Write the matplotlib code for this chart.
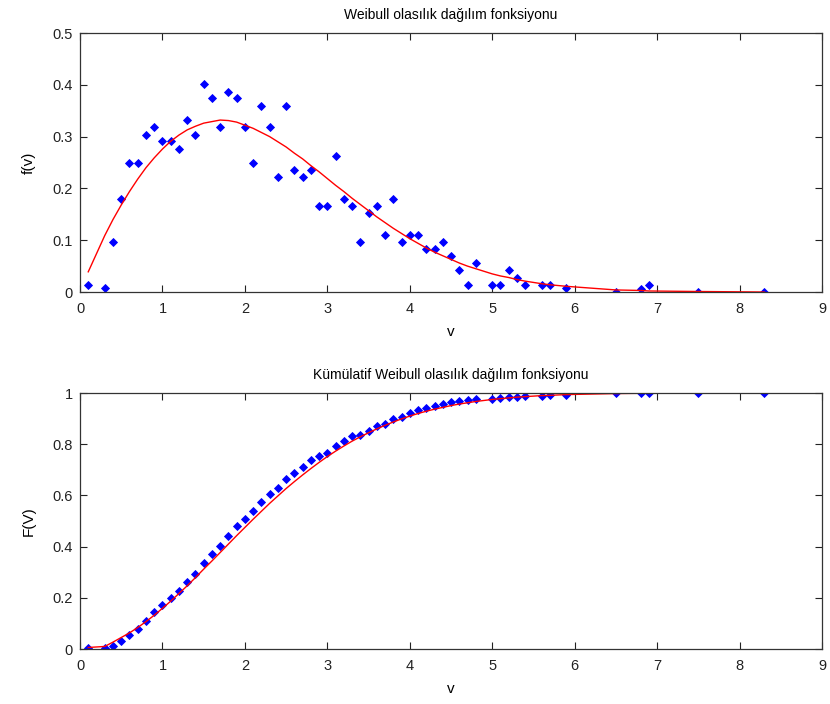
import matplotlib
matplotlib.use("Agg")
import matplotlib.pyplot as plt

plt.rcParams['font.family'] = ['Liberation Sans', 'DejaVu Sans']

# wind speed bins (m/s)
v = [0.1, 0.3, 0.4, 0.5, 0.6, 0.7, 0.8, 0.9, 1.0, 1.1, 1.2, 1.3, 1.4, 1.5, 1.6,
     1.7, 1.8, 1.9, 2.0, 2.1, 2.2, 2.3, 2.4, 2.5, 2.6, 2.7, 2.8, 2.9, 3.0, 3.1,
     3.2, 3.3, 3.4, 3.5, 3.6, 3.7, 3.8, 3.9, 4.0, 4.1, 4.2, 4.3, 4.4, 4.5, 4.6,
     4.7, 4.8, 5.0, 5.1, 5.2, 5.3, 5.4, 5.6, 5.7, 5.9, 6.5, 6.8, 6.9, 7.5, 8.3]

# measured probability density (blue diamonds)
f_meas = [0.013, 0.007, 0.097, 0.179, 0.250, 0.250, 0.303, 0.318, 0.291, 0.291,
          0.277, 0.333, 0.303, 0.402, 0.374, 0.318, 0.386, 0.374, 0.318, 0.250,
          0.360, 0.318, 0.222, 0.360, 0.236, 0.222, 0.236, 0.167, 0.167, 0.262,
          0.179, 0.167, 0.097, 0.153, 0.167, 0.111, 0.179, 0.097, 0.111, 0.111,
          0.083, 0.083, 0.097, 0.069, 0.042, 0.014, 0.056, 0.014, 0.014, 0.042,
          0.028, 0.014, 0.014, 0.014, 0.007, 0.001, 0.005, 0.014, 0.001, 0.001]

# Weibull fitted density (red line)
f_fit = [0.039, 0.109, 0.140, 0.168, 0.194, 0.218, 0.240, 0.259, 0.276, 0.291,
         0.303, 0.313, 0.320, 0.326, 0.329, 0.332, 0.331, 0.328, 0.322, 0.316,
         0.308, 0.300, 0.290, 0.280, 0.268, 0.257, 0.244, 0.232, 0.219, 0.206,
         0.194, 0.181, 0.169, 0.157, 0.145, 0.134, 0.123, 0.113, 0.103, 0.094,
         0.085, 0.077, 0.070, 0.063, 0.056, 0.050, 0.045, 0.035, 0.031, 0.028,
         0.024, 0.021, 0.016, 0.014, 0.011, 0.004, 0.003, 0.002, 0.001, 0.000]

# measured cumulative distribution (blue diamonds)
F_meas = [0.004, 0.003, 0.013, 0.031, 0.055, 0.080, 0.109, 0.143, 0.171, 0.200,
          0.228, 0.262, 0.294, 0.335, 0.372, 0.402, 0.442, 0.480, 0.507, 0.538,
          0.574, 0.606, 0.628, 0.664, 0.688, 0.711, 0.737, 0.753, 0.767, 0.795,
          0.813, 0.831, 0.836, 0.853, 0.871, 0.880, 0.897, 0.908, 0.921, 0.932,
          0.940, 0.950, 0.957, 0.965, 0.969, 0.971, 0.976, 0.978, 0.980, 0.984,
          0.986, 0.988, 0.989, 0.991, 0.993, 0.999, 0.999, 1.000, 1.000, 1.000]

# Weibull fitted cumulative distribution (red line)
F_fit = [0.006, 0.010, 0.027, 0.045, 0.063, 0.084, 0.107, 0.132, 0.159, 0.187,
         0.217, 0.247, 0.279, 0.312, 0.344, 0.377, 0.410, 0.443, 0.475, 0.507,
         0.538, 0.569, 0.598, 0.627, 0.654, 0.680, 0.705, 0.729, 0.752, 0.773,
         0.793, 0.812, 0.829, 0.845, 0.860, 0.874, 0.887, 0.899, 0.910, 0.920,
         0.929, 0.937, 0.944, 0.951, 0.957, 0.962, 0.967, 0.975, 0.978, 0.981,
         0.984, 0.986, 0.990, 0.991, 0.994, 0.998, 0.999, 0.999, 1.000, 1.000]

fig = plt.figure(figsize=(8.30, 7.04), dpi=100)
ax1 = fig.add_axes([0.0964, 0.5852, 0.894, 0.3679])
ax2 = fig.add_axes([0.0964, 0.0781, 0.894, 0.3636])

def style(ax):
    ax.tick_params(direction='in', length=5, width=0.8, top=True, right=True,
                   labelsize=10.5, colors='#222222')
    ax.tick_params(axis='x', pad=7)
    ax.tick_params(axis='y', pad=5)
    for s in ax.spines.values():
        s.set_color('#333333')
        s.set_linewidth(0.9)
    ax.set_xlim(0, 9)
    ax.set_xticks(range(0, 10))

mk = dict(linestyle='none', marker='D', markersize=4.4, color='#0000ff',
          markeredgecolor='#0000ff', markeredgewidth=0.6)

ax1.plot(v, f_meas, **mk)
ax1.plot(v, f_fit, color='#ff0000', linewidth=1.0)
style(ax1)
ax1.set_ylim(0, 0.5)
ax1.set_yticks([0, 0.1, 0.2, 0.3, 0.4, 0.5])
ax1.set_yticklabels(['0', '0.1', '0.2', '0.3', '0.4', '0.5'])
ax1.set_title('Weibull olasılık dağılım fonksiyonu', fontsize=10, pad=10)
ax1.set_xlabel('v', fontsize=11, labelpad=7)
ax1.set_ylabel('f(v)', fontsize=11, labelpad=12)

ax2.plot(v, F_meas, **mk)
ax2.plot(v, F_fit, color='#ff0000', linewidth=1.0)
style(ax2)
ax2.set_ylim(0, 1)
ax2.set_yticks([0, 0.2, 0.4, 0.6, 0.8, 1])
ax2.set_yticklabels(['0', '0.2', '0.4', '0.6', '0.8', '1'])
ax2.set_title('Kümülatif Weibull olasılık dağılım fonksiyonu', fontsize=10, pad=10)
ax2.set_xlabel('v', fontsize=11, labelpad=7)
ax2.set_ylabel('F(V)', fontsize=11, labelpad=12)

fig.savefig('out.png', dpi=100)
